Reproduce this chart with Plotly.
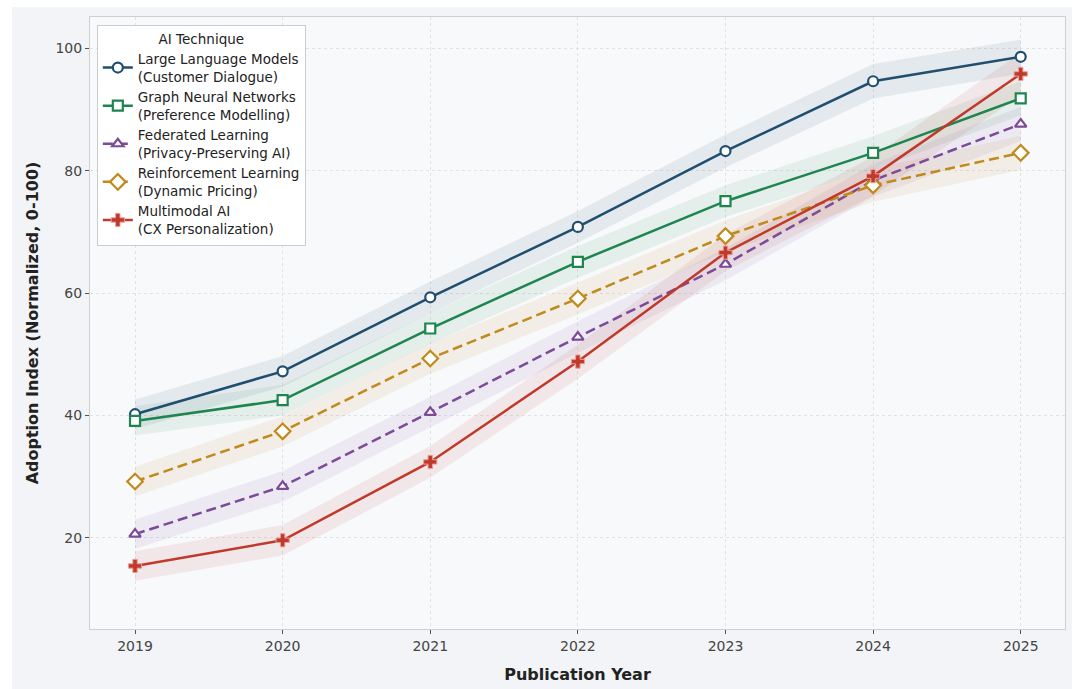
import plotly.graph_objects as go

years = [2019, 2020, 2021, 2022, 2023, 2024, 2025]

series_names = [
    "Large Language Models<br>(Customer Dialogue)",
    "Graph Neural Networks<br>(Preference Modelling)",
    "Federated Learning<br>(Privacy-Preserving AI)",
    "Reinforcement Learning<br>(Dynamic Pricing)",
    "Multimodal AI<br>(CX Personalization)",
]

llm = [40.2, 47.2, 59.3, 70.8, 83.2, 94.6, 98.6]
gnn = [39.1, 42.5, 54.2, 65.1, 75.0, 82.9, 91.8]
fl = [20.6, 28.4, 40.5, 52.8, 64.7, 78.4, 87.6]
rl = [29.2, 37.4, 49.3, 59.1, 69.3, 77.6, 82.9]
mm = [15.4, 19.6, 32.4, 48.8, 66.6, 79.1, 95.8]

llm_spread = [2.4, 2.5, 2.6, 2.6, 2.7, 2.8, 2.8]
gnn_spread = [2.4, 2.5, 2.5, 2.6, 2.6, 2.7, 2.8]
fl_spread = [2.4, 2.5, 2.5, 2.6, 2.6, 2.7, 2.8]
rl_spread = [2.4, 2.5, 2.5, 2.6, 2.6, 2.7, 2.8]
mm_spread = [2.4, 2.5, 2.6, 2.8, 3.0, 3.2, 3.5]

values = [llm, gnn, fl, rl, mm]
spreads = [llm_spread, gnn_spread, fl_spread, rl_spread, mm_spread]
colors = ["#1f4e6f", "#1e8550", "#7b4a99", "#c08a1c", "#c0392b"]
band_colors = ["rgba(31,78,111,0.09)", "rgba(30,133,80,0.09)", "rgba(123,74,153,0.09)",
               "rgba(192,138,28,0.09)", "rgba(192,57,43,0.09)"]
symbols = ["circle", "square", "triangle-up", "diamond", "cross"]
marker_sizes = [10, 10, 10, 12, 11]
dashes = ["solid", "solid", "dash", "dash", "solid"]

fig = go.Figure()

for vals, spr, bc in zip(values, spreads, band_colors):
    upper = [v + s for v, s in zip(vals, spr)]
    lower = [v - s for v, s in zip(vals, spr)]
    fig.add_trace(go.Scatter(
        x=years + years[::-1], y=upper + lower[::-1],
        fill="toself", fillcolor=bc, line=dict(width=0),
        mode="lines", showlegend=False, hoverinfo="skip"))

for name, vals, c, sym, ms, d in zip(series_names, values, colors, symbols, marker_sizes, dashes):
    filled = sym == "cross"
    fig.add_trace(go.Scatter(
        x=years, y=vals, name=name, mode="lines+markers",
        line=dict(color=c, width=2.5, dash="10px,5px" if d == "dash" else "solid"),
        marker=dict(symbol=sym, size=ms,
                    color=c if filled else "white",
                    line=dict(color="#e8a09a" if filled else c, width=1 if filled else 2.2))))

fig.add_shape(type="rect", xref="paper", yref="paper",
              x0=-0.08, x1=1.01, y0=-0.1, y1=1.0163,
              fillcolor="#f3f4f7", line=dict(width=0), layer="below")
fig.add_shape(type="rect", xref="paper", yref="paper",
              x0=0, x1=1, y0=0, y1=1,
              fillcolor="#f8f9fb", line=dict(width=0), layer="below")

fig.update_layout(
    width=1072, height=689,
    margin=dict(l=90, r=7, t=17, b=60),
    paper_bgcolor="white",
    plot_bgcolor="#f8f9fb",
    font=dict(family="DejaVu Sans", size=12, color="#333"),
    legend=dict(
        x=0.007, y=0.987, xanchor="left", yanchor="top",
        bgcolor="rgba(255,255,255,0.92)", bordercolor="#cccccc", borderwidth=1,
        font=dict(size=13.5, color="#222"),
        title=dict(text="AI Technique", side="top center", font=dict(size=13.5, color="#222")),
        tracegroupgap=0,
    ),
)

fig.update_xaxes(
    range=[2018.695, 2025.3], tickmode="array", tickvals=years,
    ticktext=[str(y) for y in years],
    showgrid=True, gridcolor="#e2e2e2", griddash="dot", gridwidth=1,
    showline=True, linecolor="#cfcfcf", linewidth=1, mirror=True,
    ticks="outside", ticklen=4, tickcolor="#555", tickfont=dict(size=14, color="#444"),
    zeroline=False,
    title=dict(text="<b>Publication Year</b>", font=dict(size=16, color="#222"), standoff=16),
)
fig.update_yaxes(
    range=[5.1, 105.1], tickvals=[20, 40, 60, 80, 100],
    showgrid=True, gridcolor="#e2e2e2", griddash="dot", gridwidth=1,
    showline=True, linecolor="#cfcfcf", linewidth=1, mirror=True,
    ticks="outside", ticklen=4, tickcolor="#555", tickfont=dict(size=14, color="#444"),
    zeroline=False,
    title=dict(text="<b>Adoption Index (Normalized, 0-100)</b>", font=dict(size=16, color="#222"), standoff=12),
)

fig.write_html("out.html")
